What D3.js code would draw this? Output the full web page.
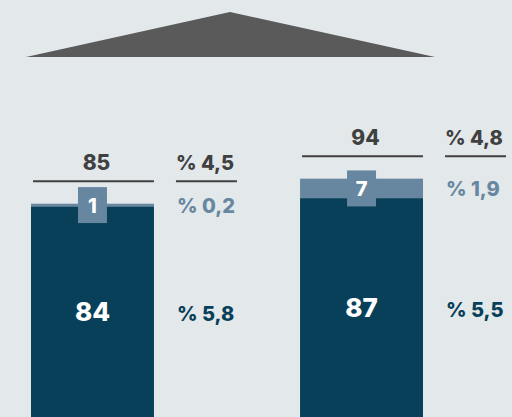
<!DOCTYPE html>
<html>
<head>
<meta charset="utf-8">
<script src="https://cdn.jsdelivr.net/npm/d3@7"></script>
<style>
  html, body { margin: 0; padding: 0; background: #e3e8eb; }
  svg { display: block; font-family: Inter, "Open Sans", "Liberation Sans", Arial, sans-serif; font-weight: 800; }
</style>
</head>
<body>
<svg></svg>
<script>
const categories = ["1", "2"];
const baseValues = [84, 87];
const topValues = [1, 7];
const totalLabels = ["85", "94"];
const totalPct = ["% 4,5", "% 4,8"];
const topPct = ["% 0,2", "% 1,9"];
const basePct = ["% 5,8", "% 5,5"];

const width = 512;
const height = 417;
const dark = "#083f59";
const light = "#6787a0";
const grey = "#404040";

const svg = d3.select("svg")
    .attr("width", width)
    .attr("height", height);

// roof shape at the top
svg.append("path")
    .attr("d", d3.line()([[26, 57], [230, 12], [435, 57]]) + "Z")
    .attr("fill", "#5a5a5a");

const x = d3.scaleBand()
    .domain(categories)
    .range([31, 423])
    .paddingInner(0.543);

const y = d3.scaleLinear()
    .domain([0, 100])
    .range([440, 162]);

const data = categories.map((c, i) => ({
    cat: c,
    base: baseValues[i],
    top: topValues[i],
    total: baseValues[i] + topValues[i],
    totalLabel: totalLabels[i],
    totalPct: totalPct[i],
    topPct: topPct[i],
    basePct: basePct[i]
}));

const g = svg.selectAll("g.bar")
    .data(data)
    .join("g")
    .attr("class", "bar");

// light segment
g.append("rect")
    .attr("x", d => x(d.cat))
    .attr("width", x.bandwidth())
    .attr("y", d => y(d.total))
    .attr("height", d => y(d.base) - y(d.total))
    .attr("fill", light);

// dark segment
g.append("rect")
    .attr("x", d => x(d.cat))
    .attr("width", x.bandwidth())
    .attr("y", d => y(d.base))
    .attr("height", d => height - y(d.base))
    .attr("fill", dark);

// label box on the light segment
const boxW = 29, boxH = 36;
g.append("rect")
    .attr("x", d => x(d.cat) + x.bandwidth() / 2 - boxW / 2)
    .attr("y", d => (y(d.total) + y(d.base)) / 2 - boxH / 2)
    .attr("width", boxW)
    .attr("height", boxH)
    .attr("fill", light);

g.append("text")
    .attr("x", d => x(d.cat) + x.bandwidth() / 2)
    .attr("y", d => (y(d.total) + y(d.base)) / 2 + 7.5)
    .attr("text-anchor", "middle")
    .attr("font-size", 20)
    .attr("fill", "#fff")
    .text(d => d.top);

// base value inside the dark bar
g.append("text")
    .attr("x", d => x(d.cat) + x.bandwidth() / 2)
    .attr("y", d => (y(d.base) + height) / 2 + 9.5)
    .attr("text-anchor", "middle")
    .attr("font-size", 26)
    .attr("fill", "#fff")
    .text(d => d.base);

// total line and label
const lineY = d => y(d.total) - 22.5;
g.append("line")
    .attr("x1", d => x(d.cat) + 2)
    .attr("x2", d => x(d.cat) + x.bandwidth())
    .attr("y1", lineY)
    .attr("y2", lineY)
    .attr("stroke", grey)
    .attr("stroke-width", 2);

g.append("text")
    .attr("x", d => x(d.cat) + x.bandwidth() / 2 + 4)
    .attr("y", d => lineY(d) - 11)
    .attr("text-anchor", "middle")
    .attr("font-size", 21)
    .attr("fill", grey)
    .text(d => d.totalLabel);

// percentages on the right
const px = d => x(d.cat) + x.bandwidth() + 22;
g.append("line")
    .attr("x1", px)
    .attr("x2", d => px(d) + 61)
    .attr("y1", lineY)
    .attr("y2", lineY)
    .attr("stroke", grey)
    .attr("stroke-width", 2);

g.append("text")
    .attr("x", px)
    .attr("y", d => lineY(d) - 11)
    .attr("font-size", 20)
    .attr("fill", grey)
    .text(d => d.totalPct);

g.append("text")
    .attr("x", d => px(d) + 1)
    .attr("y", d => (y(d.total) + y(d.base)) / 2 + 8)
    .attr("font-size", 20)
    .attr("fill", light)
    .text(d => d.topPct);

g.append("text")
    .attr("x", d => px(d) + 1)
    .attr("y", d => (y(d.base) + height) / 2 + 9)
    .attr("font-size", 20)
    .attr("fill", dark)
    .text(d => d.basePct);
</script>
</body>
</html>
